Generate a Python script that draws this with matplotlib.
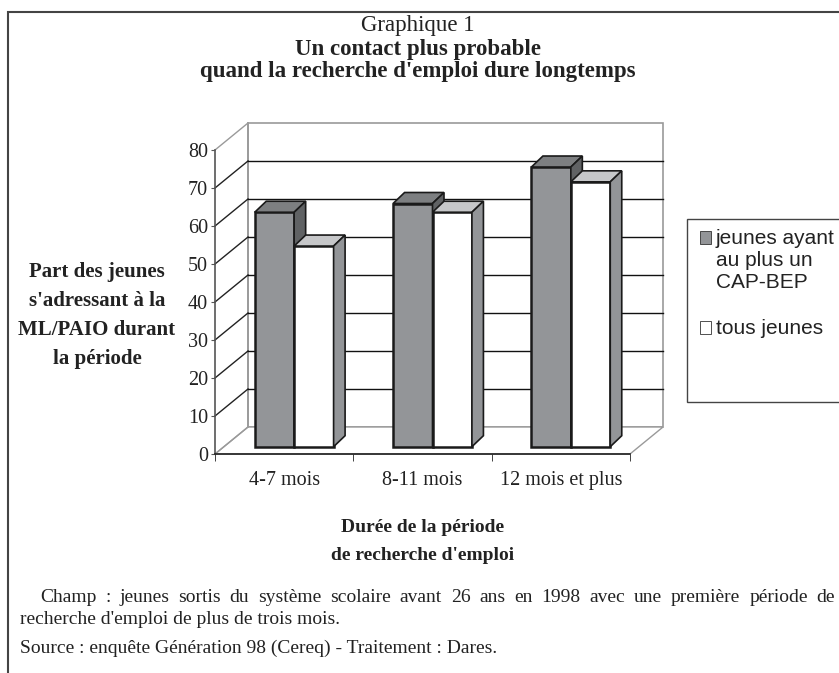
import numpy as np
import matplotlib
matplotlib.use("Agg")
import matplotlib.pyplot as plt
from matplotlib.patches import Polygon, Rectangle

# ---------------------------
# Données
# ---------------------------
categories = ["4-7 mois", "8-11 mois", "12 mois et plus"]
cap_bep = [61.7, 64.0, 73.6]      # jeunes ayant au plus un CAP-BEP
tous = [52.8, 61.7, 69.7]         # tous jeunes
yticks = [0, 10, 20, 30, 40, 50, 60, 70, 80]

plt.rcParams["font.family"] = ["Liberation Serif", "DejaVu Serif"]

W, H = 839, 673
fig = plt.figure(figsize=(W / 100, H / 100), dpi=100)


def fx(px):
    return px / W


def fy(py):
    return 1 - py / H


# axes: front axis from x=215 to 630 px, y=0 at 454 px, y=80 at 150 px
ax = fig.add_axes([fx(215), fy(454), (630 - 215) / W, (454 - 150) / H])
ax.set_xlim(0, 3)
ax.set_ylim(0, 80)
px_x = 415 / 3      # pixels per category
px_y = 304 / 80     # pixels per unit

# profondeur du décor et des barres (en pixels -> données)
DX, DY = 33 / px_x, 27 / px_y
BDX, BDY = 11.5 / px_x, 11 / px_y
OFX, OFY = 10 / px_x, 7.3 / px_y
bw = 0.285

wall = "#9a9a9a"

# mur du fond
ax.add_patch(Polygon([(DX, DY), (3 + DX, DY), (3 + DX, 80 + DY), (DX, 80 + DY)],
                     closed=True, facecolor="white", edgecolor=wall, lw=1.2, clip_on=False, zorder=1))
# sol
ax.add_patch(Polygon([(0, 0), (3, 0), (3 + DX, DY), (DX, DY)],
                     closed=True, facecolor="white", edgecolor=wall, lw=1.0, clip_on=False, zorder=1))
# mur de gauche
ax.plot([DX, DX], [DY, 80 + DY], color=wall, lw=1.2, clip_on=False, zorder=2)
for v in yticks:
    c = wall if v in (0, 80) else "#222222"
    ax.plot([0, DX], [v, v + DY], color=c, lw=1.0, clip_on=False, zorder=2)
    if v not in (0, 80):
        ax.plot([DX, 3 + DX], [v + DY, v + DY], color="#111111", lw=1.0, clip_on=False, zorder=2)


def bar3d(x0, h, front, top, side):
    y0 = OFY
    x0 = x0 + OFX
    kw = dict(closed=True, edgecolor="#1a1a1a", clip_on=False, zorder=3)
    ax.add_patch(Polygon([(x0, y0), (x0 + bw, y0), (x0 + bw, y0 + h), (x0, y0 + h)],
                         facecolor=front, lw=1.8, **kw))
    ax.add_patch(Polygon([(x0, y0 + h), (x0 + bw, y0 + h), (x0 + bw + BDX, y0 + h + BDY),
                          (x0 + BDX, y0 + h + BDY)], facecolor=top, lw=1.2, **kw))
    ax.add_patch(Polygon([(x0 + bw, y0), (x0 + bw + BDX, y0 + BDY), (x0 + bw + BDX, y0 + h + BDY),
                          (x0 + bw, y0 + h)], facecolor=side, lw=1.2, **kw))


for i in range(len(categories)):
    left = i + 0.5 - bw
    bar3d(left, cap_bep[i], "#939598", "#7d7f81", "#606264")
    bar3d(left + bw, tous[i], "white", "#c6c7c9", "#939598")

# axes
for s in ["top", "right"]:
    ax.spines[s].set_visible(False)
ax.spines["left"].set_color("#555555")
ax.spines["bottom"].set_color("#222222")
ax.spines["left"].set_linewidth(1.2)
ax.spines["bottom"].set_linewidth(1.2)
ax.set_yticks(yticks)
ax.set_yticklabels([str(v) for v in yticks], fontsize=14.5, color="#222222")
ax.tick_params(axis="y", length=3, pad=2, color="#555555")
ax.set_xticks([0.5, 1.5, 2.5])
ax.set_xticklabels(categories, fontsize=14.5, color="#222222")
ax.set_xticks([0, 1, 2, 3], minor=True)
ax.tick_params(axis="x", which="major", length=0, pad=12)
ax.tick_params(axis="x", which="minor", length=5, color="#222222")
ax.patch.set_alpha(0)

# cadre extérieur
fig.patches.append(Rectangle((fx(8), fy(700)), fx(900), fy(12) - fy(700), transform=fig.transFigure,
                             facecolor="none", edgecolor="#444444", lw=1.5))

# légende
fig.patches.append(Rectangle((fx(687), fy(402)), fx(200), fy(219) - fy(402), transform=fig.transFigure,
                             facecolor="white", edgecolor="#444444", lw=1.0))
fig.patches.append(Rectangle((fx(700), fy(244)), fx(11), fy(231) - fy(244), transform=fig.transFigure,
                             facecolor="#939598", edgecolor="#333333", lw=0.6))
fig.patches.append(Rectangle((fx(700), fy(334)), fx(11), fy(321) - fy(334), transform=fig.transFigure,
                             facecolor="white", edgecolor="#333333", lw=0.6))
lfont = dict(family=["Liberation Sans", "DejaVu Sans"], fontsize=15, va="center", ha="left", color="#222222")
fig.text(fx(716), fy(238), "jeunes ayant", **lfont)
fig.text(fx(716), fy(260), "au plus un", **lfont)
fig.text(fx(716), fy(282), "CAP-BEP", **lfont)
fig.text(fx(716), fy(328), "tous jeunes", **lfont)

# titres
fig.text(fx(418), fy(26), "Graphique 1", fontsize=16.5, ha="center", va="center", color="#222222")
fig.text(fx(418), fy(49), "Un contact plus probable", fontsize=16.5, weight="bold",
         ha="center", va="center", color="#222222")
fig.text(fx(418), fy(72), "quand la recherche d'emploi dure longtemps", fontsize=16.5, weight="bold",
         ha="center", va="center", color="#222222")

# titre axe y
for k, line in enumerate(["Part des jeunes", "s'adressant à la", "ML/PAIO durant", "la période"]):
    fig.text(fx(97), fy(272 + 29 * k), line, fontsize=15, weight="bold", ha="center", va="center",
             color="#222222")

# titre axe x
fig.text(fx(423), fy(527), "Durée de la période", fontsize=14, weight="bold", ha="center",
         va="center", color="#222222")
fig.text(fx(423), fy(555), "de recherche d'emploi", fontsize=14, weight="bold", ha="center",
         va="center", color="#222222")

# notes (première ligne justifiée)
nfont = dict(fontsize=14, ha="left", va="center", color="#222222")
champ = "Champ : jeunes sortis du système scolaire avant 26 ans en 1998 avec une première période de"
words = champ.split(" ")
renderer = fig.canvas.get_renderer()
items = [fig.text(0, fy(598), w, **nfont) for w in words]
widths = [t.get_window_extent(renderer).width for t in items]
x_start, x_end = 40, 835
gap = (x_end - x_start - sum(widths)) / (len(words) - 1)
xpos = x_start
for t, w in zip(items, widths):
    t.set_x(fx(xpos))
    xpos += w + gap
fig.text(fx(20), fy(619), "recherche d'emploi de plus de trois mois.", **nfont)
fig.text(fx(20), fy(648), "Source : enquête Génération 98 (Cereq) - Traitement : Dares.", **nfont)

fig.savefig("out.png", dpi=100)
